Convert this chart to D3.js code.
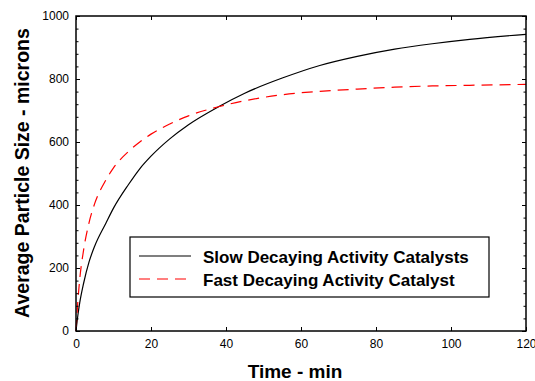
<!DOCTYPE html>
<html>
<head>
  <script src="https://cdn.jsdelivr.net/npm/d3@7"></script>
  <style>
    body { margin: 0; background: #fff; }
    text { font-family: "Liberation Sans", Arial, sans-serif; }
  </style>
</head>
<body>
  <svg width="535" height="381" id="mainsvg"></svg>
  <script>
    // data
    const times = [0, 0.5, 1, 2, 3.5, 5, 8, 10, 14, 17, 20, 25, 30, 38, 45, 55, 65, 75, 85, 95, 105, 120];
    const slowSizes = [0, 50, 90, 150, 220, 270, 343, 390, 465, 515, 555, 610, 655, 712, 755, 803, 843, 872, 895, 912, 926, 942];
    const fastSizes = [0, 95, 165, 255, 345, 405, 480, 518, 570, 600, 625, 657, 683, 712, 731, 750, 761, 768, 774, 778, 780, 783];
    const xTicks = [0, 20, 40, 60, 80, 100, 120];
    const yTicks = [0, 200, 400, 600, 800, 1000];
    const yMinorTicks = d3.range(0, 1001, 40).filter(v => v % 200 !== 0);
    const seriesNames = ['Slow Decaying Activity Catalysts', 'Fast Decaying Activity Catalyst'];

    const svg = d3.select('#mainsvg');
    const margin = { top: 16, right: 9, bottom: 50, left: 76 };
    const width = +svg.attr('width'), height = +svg.attr('height');
    const innerWidth = width - margin.left - margin.right;
    const innerHeight = height - margin.top - margin.bottom;

    const xScale = d3.scaleLinear().domain([0, 120]).range([0, innerWidth]);
    const yScale = d3.scaleLinear().domain([0, 1000]).range([innerHeight, 0]);

    const g = svg.append('g').attr('transform', `translate(${margin.left},${margin.top})`);

    // curves
    const line = d3.line().x(d => xScale(d[0])).y(d => yScale(d[1])).curve(d3.curveMonotoneX);
    g.append('path').datum(times.map((t, i) => [t, slowSizes[i]]))
      .attr('d', line).attr('fill', 'none').attr('stroke', '#000').attr('stroke-width', 1.2);
    g.append('path').datum(times.map((t, i) => [t, fastSizes[i]]))
      .attr('d', line).attr('fill', 'none').attr('stroke', '#ff0000').attr('stroke-width', 1.2)
      .attr('stroke-dasharray', '11,7');

    // axes (ticks inside, mirrored on top and right)
    const styleAxis = sel => {
      sel.selectAll('.domain').remove();
      sel.selectAll('line').attr('stroke', '#000').attr('stroke-width', 1);
      sel.selectAll('text').attr('font-size', 12).attr('fill', '#000');
    };
    const fmt = d3.format('d');
    g.append('g').attr('transform', `translate(0,${innerHeight})`)
      .call(d3.axisBottom(xScale).tickValues(xTicks).tickSize(-4).tickPadding(8).tickFormat(fmt))
      .call(styleAxis);
    g.append('g')
      .call(d3.axisTop(xScale).tickValues(xTicks).tickSize(-4).tickFormat(''))
      .call(styleAxis);
    g.append('g')
      .call(d3.axisLeft(yScale).tickValues(yTicks).tickSize(-4).tickPadding(7).tickFormat(fmt))
      .call(styleAxis);
    g.append('g')
      .call(d3.axisLeft(yScale).tickValues(yMinorTicks).tickSize(-2.5).tickFormat(''))
      .call(styleAxis);
    g.append('g').attr('transform', `translate(${innerWidth},0)`)
      .call(d3.axisRight(yScale).tickValues(yTicks).tickSize(-4).tickFormat(''))
      .call(styleAxis);
    g.append('g').attr('transform', `translate(${innerWidth},0)`)
      .call(d3.axisRight(yScale).tickValues(yMinorTicks).tickSize(-2.5).tickFormat(''))
      .call(styleAxis);

    // frame
    g.append('rect').attr('width', innerWidth).attr('height', innerHeight)
      .attr('fill', 'none').attr('stroke', '#000').attr('stroke-width', 1.5);

    // axis titles
    svg.append('text').attr('x', 295).attr('y', 378).attr('text-anchor', 'middle')
      .attr('font-size', 19).attr('font-weight', 'bold').text('Time - min');
    svg.append('text').attr('transform', 'translate(28.5,173) rotate(-90)').attr('text-anchor', 'middle')
      .attr('font-size', 19.5).attr('font-weight', 'bold').text('Average Particle Size - microns');

    // legend
    const lg = svg.append('g').attr('transform', 'translate(130,237)');
    lg.append('rect').attr('width', 359).attr('height', 60)
      .attr('fill', '#fff').attr('stroke', '#000').attr('stroke-width', 1.2);
    [{ y: 19, color: '#000', dash: null }, { y: 42, color: '#ff0000', dash: '11,7' }].forEach((s, i) => {
      lg.append('line').attr('x1', 9).attr('x2', 61).attr('y1', s.y).attr('y2', s.y)
        .attr('stroke', s.color).attr('stroke-width', 1.2).attr('stroke-dasharray', s.dash);
      lg.append('text').attr('x', 73).attr('y', s.y + 7).attr('font-size', 17).attr('font-weight', 'bold')
        .text(seriesNames[i]);
    });
  </script>
</body>
</html>
